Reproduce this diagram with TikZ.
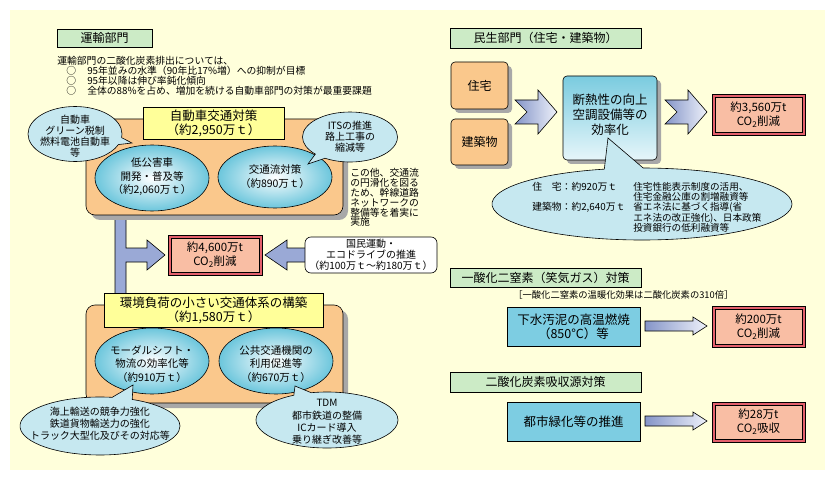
\documentclass[tikz,border=0pt]{standalone}
\usepackage{fontspec}
\setmainfont{Noto Sans CJK JP}
\usetikzlibrary{shapes.geometric,shapes.callouts,shadows}
\definecolor{bgy}{HTML}{FFFFDB}
\definecolor{hgreen}{HTML}{CCEBC6}
\definecolor{orng}{HTML}{FAC88C}
\definecolor{ttly}{HTML}{FFFF99}
\definecolor{cyanE}{HTML}{6CC6DC}
\definecolor{callb}{HTML}{C6E8F0}
\definecolor{salmon}{HTML}{F9BEA4}
\definecolor{redb}{HTML}{E4606C}
\definecolor{boxb}{HTML}{7DCDE2}
\definecolor{arrb}{HTML}{9AA9D6}
\definecolor{shad}{HTML}{A8A8A8}
\definecolor{chevL}{HTML}{8595C8}
\definecolor{chevR}{HTML}{EEF1FA}
\definecolor{ctop}{HTML}{7ACBDF}
\definecolor{cbot}{HTML}{E6F6FA}
\newcommand{\fsz}[2]{\fontsize{#1}{#2}\selectfont}
\tikzset{
  hdr/.style={draw=black, fill=hgreen, inner sep=0pt, font=\fsz{12}{13}},
  tbox/.style={draw=black, fill=ttly, inner sep=0pt, align=center, font=\fsz{12.5}{14}},
  ovl/.style={ellipse, draw=black, inner sep=0pt, inner color=white, outer color=cyanE},
  ovtxt/.style={inner sep=0pt, align=center, font=\fsz{10.5}{13.5}},
  bubble/.style={ellipse callout, draw=black, fill=callb, inner sep=0pt},
  bubtxt/.style={inner sep=0pt, align=center, font=\fsz{10}{11}},
  redout/.style={draw=black, fill=redb, inner sep=0pt},
  redin/.style={draw=black, fill=salmon, inner sep=0pt, align=center, font=\fsz{11.5}{14}},
  bluebox/.style={draw=black, fill=boxb, inner sep=0pt, align=center, font=\fsz{12.5}{14}},
  orbox/.style={draw=black, fill=orng, rounded corners=4pt, inner sep=0pt, font=\fsz{12}{14},
     drop shadow={shadow xshift=4pt, shadow yshift=-4pt, fill=shad, opacity=1}},
  panel/.style={draw=black, fill=orng, rounded corners=9pt, inner sep=0pt,
     drop shadow={shadow xshift=5pt, shadow yshift=-5pt, fill=shad, opacity=1}},
  smalltxt/.style={inner sep=0pt, font=\fsz{9.8}{10.2}},
  blockarr/.style={draw=black, fill=arrb, line width=0.6pt},
  chev/.style={draw=black, left color=chevL, right color=chevR, line width=0.6pt},
}
\begin{document}
\begin{tikzpicture}[x=1pt,y=-1pt,line width=0.6pt]
\useasboundingbox (0,0) rectangle (835,481);
\fill[white] (0,0) rectangle (835,481);
\fill[bgy] (10,10) rectangle (825,470);

% ===== 運輸部門 =====
\node[hdr, minimum width=95pt, minimum height=18pt] (h1) at (104.5,38) {運輸部門};
\node[smalltxt, anchor=west] (t0) at (57,61) {運輸部門の二酸化炭素排出については、};
\node[smalltxt, anchor=west] (b1) at (66,71) {○};
\node[smalltxt, anchor=west] (b2) at (66,80.5) {○};
\node[smalltxt, anchor=west] (b3) at (66,90.5) {○};
\node[smalltxt, anchor=west] (t1) at (87,71) {95年並みの水準（90年比17\%増）への抑制が目標};
\node[smalltxt, anchor=west] (t2) at (87,80.5) {95年以降は伸び率鈍化傾向};
\node[smalltxt, anchor=west] (t3) at (87,90.5) {全体の88\%を占め、増加を続ける自動車部門の対策が最重要課題};

% blue bar with branch arrow
\draw[blockarr] (115,210) -- (126,210) -- (126,248) -- (147,248) -- (147,240) -- (165,255)
   -- (147,270) -- (147,262) -- (126,262) -- (126,294) -- (115,294) -- cycle;
\draw[blockarr] (307,248) -- (287,248) -- (287,240) -- (265,255) -- (287,270) -- (287,262) -- (307,262) -- cycle;

% upper panel
\node[panel, minimum width=257pt, minimum height=96pt] (p1) at (214.5,167) {};
\node[tbox, minimum width=141pt, minimum height=32pt] (tt1) at (213.5,123) {自動車交通対策\\（約2,950万ｔ）};
\node[ovl, minimum width=114pt, minimum height=66pt] (ea) at (152,178) {};
\node[ovtxt] (eat) at (152,177) {低公害車\\開発・普及等\\（約2,060万ｔ）};
\node[ovl, minimum width=114pt, minimum height=62pt] (eb) at (275,177) {};
\node[ovtxt] (ebt) at (275,176.5) {交通流対策\\（約890万ｔ）};

\node[bubble, minimum width=94pt, minimum height=55pt, callout absolute pointer={(132,143)}] (c1) at (75,134) {};
\node[bubtxt] (c1t) at (75,136.5) {自動車\\グリーン税制\\燃料電池自動車\\等};
\node[bubble, minimum width=95pt, minimum height=50pt, callout absolute pointer={(308,164)}] (c2) at (350,137) {};
\node[bubtxt] (c2t) at (350,136.5) {ITSの推進\\路上工事の\\縮減等};

\node[smalltxt, anchor=west, align=left, font=\fsz{9.8}{9.9}] (side) at (350,197.5)
  {この他、交通流\\の円滑化を図る\\ため、幹線道路\\ネットワークの\\整備等を着実に\\実施};

% central result
\node[redout, minimum width=94pt, minimum height=40pt] (e) at (215,255) {};
\node[redin, minimum width=88pt, minimum height=34pt] (ei) at (215,255) {約4,600万t\\CO\textsubscript{2}削減};

\node[draw=black, fill=white, rounded corners=6pt, minimum width=132pt, minimum height=36pt,
      inner sep=0pt, align=center, font=\fsz{10}{11}] (f) at (371,255)
  {国民運動・\\エコドライブの推進\\（約100万ｔ～約180万ｔ）};

% lower panel
\node[panel, minimum width=257pt, minimum height=98pt] (p2) at (214.5,354) {};
\node[tbox, minimum width=219pt, minimum height=34pt] (tt2) at (213.5,310) {環境負荷の小さい交通体系の構築\\（約1,580万ｔ）};
\node[ovl, minimum width=114pt, minimum height=66pt] (eg) at (152,361) {};
\node[ovtxt] (egt) at (152,364) {モーダルシフト・\\物流の効率化等\\（約910万ｔ）};
\node[ovl, minimum width=114pt, minimum height=66pt] (eh) at (276,361) {};
\node[ovtxt] (eht) at (276,364) {公共交通機関の\\利用促進等\\（約670万ｔ）};

\node[bubble, minimum width=160pt, minimum height=58pt, callout absolute pointer={(133,385)}] (ci) at (100,426) {};
\node[bubtxt, font=\fsz{10}{12}] (cit) at (100,424) {海上輸送の競争力強化\\鉄道貨物輸送力の強化\\トラック大型化及びその対応等};
\node[bubble, minimum width=142pt, minimum height=56pt, callout absolute pointer={(295,386)}] (cj) at (327,420) {};
\node[bubtxt, font=\fsz{10}{12.4}] (cjt) at (327,422) {TDM\\都市鉄道の整備\\ICカード導入\\乗り継ぎ改善等};

% ===== 民生部門 =====
\node[hdr, minimum width=191pt, minimum height=20pt] (h2) at (545.5,38) {民生部門（住宅・建築物）};
\node[orbox, minimum width=57pt, minimum height=47pt] (jt) at (479.5,85.5) {住宅};
\node[orbox, minimum width=57pt, minimum height=46pt] (kc) at (479.5,142) {建築物};

\draw[chev] (515,100) -- (538,100) -- (538,90) -- (557,112) -- (538,134) -- (538,124) -- (515,124) -- (527,112) -- cycle;
\draw[chev] (665,100) -- (688,100) -- (688,90) -- (707,112) -- (688,134) -- (688,124) -- (665,124) -- (677,112) -- cycle;

\node[draw=black, rounded corners=4pt, top color=ctop, bottom color=cbot, minimum width=94pt, minimum height=84pt,
      inner sep=0pt, drop shadow={shadow xshift=4pt, shadow yshift=-4pt, fill=shad, opacity=1}] (dn) at (610,118) {};
\node[inner sep=0pt, align=center, font=\fsz{12.5}{15}] (dnt) at (610,115) {断熱性の向上\\空調設備等の\\効率化};

\node[redout, minimum width=93pt, minimum height=41pt] (k) at (758.5,114.5) {};
\node[redin, minimum width=87pt, minimum height=35pt] (ki) at (758.5,114.5) {約3,560万t\\CO\textsubscript{2}削減};

\node[bubble, minimum width=300pt, minimum height=72pt, callout absolute pointer={(608,138)}] (cl) at (642,204) {};
\node[smalltxt, anchor=west] (l1) at (532,187) {住　宅：約920万ｔ};
\node[smalltxt, anchor=west] (l2) at (532,207) {建築物：約2,640万ｔ};
\node[smalltxt, anchor=north west, align=left, font=\fsz{9.6}{10.3}] (l3) at (633,182)
  {住宅性能表示制度の活用、\\住宅金融公庫の割増融資等\\省エネ法に基づく指導(省\\エネ法の改正強化)、日本政策\\投資銀行の低利融資等};

% ===== 一酸化二窒素 =====
\node[hdr, minimum width=191pt, minimum height=19pt] (h3) at (545.5,277.5) {一酸化二窒素（笑気ガス）対策};
\node[smalltxt, anchor=west, font=\fsz{9.3}{10}] (note) at (513,295) {［一酸化二窒素の温暖化効果は二酸化炭素の310倍］};
\node[bluebox, minimum width=133pt, minimum height=39pt] (gs) at (573.5,326.5) {下水汚泥の高温燃焼\\（850°C）等};
\draw[chev] (645,321) -- (693,321) -- (693,317) -- (707,326) -- (693,335) -- (693,331) -- (645,331) -- cycle;
\node[redout, minimum width=93pt, minimum height=41pt] (m) at (758.5,326.5) {};
\node[redin, minimum width=87pt, minimum height=35pt] (mi) at (758.5,326.5) {約200万t\\CO\textsubscript{2}削減};

% ===== 吸収源 =====
\node[hdr, minimum width=191pt, minimum height=20pt] (h4) at (545.5,382) {二酸化炭素吸収源対策};
\node[bluebox, minimum width=133pt, minimum height=39pt] (tr) at (573.5,421.5) {都市緑化等の推進};
\draw[chev] (645,416) -- (693,416) -- (693,412) -- (707,421) -- (693,430) -- (693,426) -- (645,426) -- cycle;
\node[redout, minimum width=93pt, minimum height=40pt] (n) at (758.5,422) {};
\node[redin, minimum width=87pt, minimum height=34pt] (ni) at (758.5,422) {約28万t\\CO\textsubscript{2}吸収};
\end{tikzpicture}
\end{document}
